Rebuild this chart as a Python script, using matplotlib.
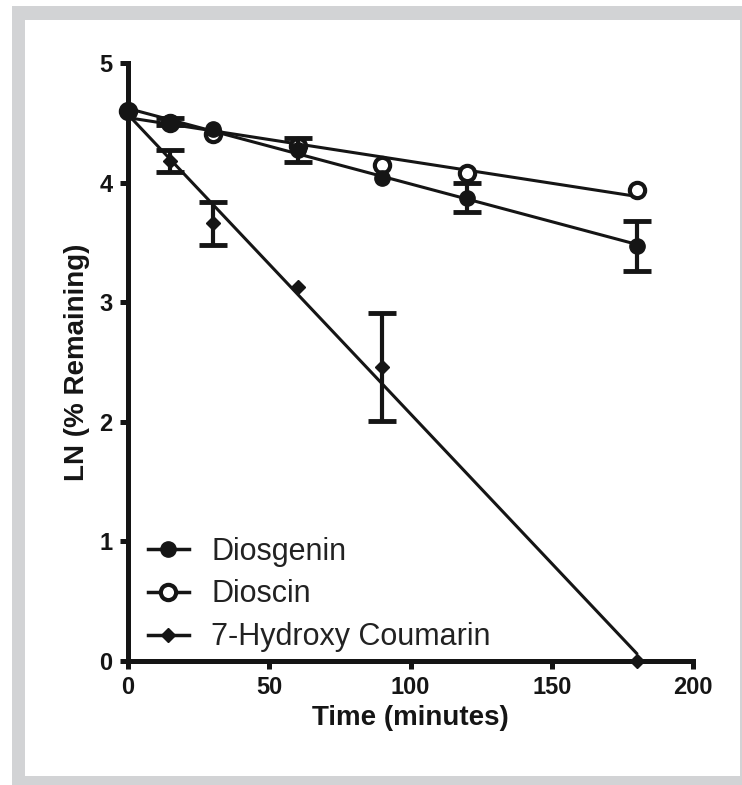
import numpy as np
import matplotlib
matplotlib.use("Agg")
import matplotlib.pyplot as plt
from matplotlib.lines import Line2D
from matplotlib.patches import Rectangle

# ---- data ----
time_min = [0, 15, 30, 60, 90, 120, 180]
diosgenin = [4.60, 4.51, 4.45, 4.27, 4.04, 3.875, 3.47]
diosgenin_err = [0.0, 0.03, 0.0, 0.10, 0.0, 0.12, 0.21]
dioscin = [4.60, 4.50, 4.41, 4.31, 4.15, 4.08, 3.94]
dioscin_err = [0.0, 0.0, 0.0, 0.0, 0.0, 0.0, 0.0]
hc_time = [0, 15, 30, 60, 90, 180]
hydroxy_coumarin = [4.60, 4.18, 3.66, 3.13, 2.46, 0.0]
hydroxy_coumarin_err = [0.0, 0.09, 0.18, 0.0, 0.45, 0.0]
series_names = ["Diosgenin", "Dioscin", "7-Hydroxy Coumarin"]
x_ticks = [0, 50, 100, 150, 200]
y_ticks = [0, 1, 2, 3, 4, 5]

W, H = 742, 785
fig = plt.figure(figsize=(W / 100, H / 100), dpi=100)
plt.rcParams['font.family'] = ['Liberation Sans', 'DejaVu Sans']

# grey frame
fig.patches.append(Rectangle((12 / W, 0), 730 / W, (H - 6) / H, transform=fig.transFigure,
                             facecolor='#d2d3d5', edgecolor='none', zorder=-2))
fig.patches.append(Rectangle((25 / W, 9 / H), 715 / W, 756 / H, transform=fig.transFigure,
                             facecolor='white', edgecolor='none', zorder=-1))

ax = fig.add_axes([128 / W, (H - 661) / H, 565 / W, 598 / H])
ax.patch.set_alpha(0)

K = '#151515'
t = np.array(time_min, dtype=float)
th = np.array(hc_time, dtype=float)

def fit_line(x, y):
    p = np.polyfit(x, y, 1)
    xs = np.array([x.min(), x.max()])
    return xs, np.polyval(p, xs)

for x, y in [(t, np.array(diosgenin)), (t, np.array(dioscin)), (th, np.array(hydroxy_coumarin))]:
    xs, ys = fit_line(x, y)
    ax.plot(xs, ys, color=K, lw=2.2, zorder=2, clip_on=False)

eb_kw = dict(ecolor=K, elinewidth=3, capsize=10, capthick=3.5, linestyle='none', clip_on=False, zorder=3)
ax.plot(t, dioscin, 'o', ms=11, mfc='white', mec=K, mew=3, clip_on=False, zorder=3)
ax.plot(t, diosgenin, 'o', ms=11, mfc=K, mec=K, clip_on=False, zorder=3)
ax.plot(th, hydroxy_coumarin, 'D', ms=7.5, mfc=K, mec=K, clip_on=False, zorder=3)
for x, y, e in [(t, diosgenin, diosgenin_err), (t, dioscin, dioscin_err),
                (th, hydroxy_coumarin, hydroxy_coumarin_err)]:
    m = np.array(e) > 0
    if m.any():
        ax.errorbar(np.asarray(x)[m], np.asarray(y)[m], yerr=np.asarray(e)[m], fmt='none', **eb_kw)

ax.set_xlim(0, 200)
ax.set_ylim(0, 5)
ax.set_xticks(x_ticks)
ax.set_yticks(y_ticks)
for s in ['top', 'right']:
    ax.spines[s].set_visible(False)
for s in ['left', 'bottom']:
    ax.spines[s].set_linewidth(3.6)
    ax.spines[s].set_color(K)
    ax.spines[s].set_capstyle('projecting')
ax.tick_params(direction='out', length=6, width=3.6, color=K, pad=5, labelsize=17)
for lab in ax.get_xticklabels() + ax.get_yticklabels():
    lab.set_fontweight('bold')
    lab.set_color(K)

ax.set_xlabel("Time (minutes)", fontsize=20, fontweight='bold', color=K, labelpad=4)
ax.set_ylabel("LN (% Remaining)", fontsize=20, fontweight='bold', color=K, labelpad=7)

handles = [
    Line2D([], [], color=K, lw=2.5, marker='o', ms=11, mfc=K, mec=K),
    Line2D([], [], color=K, lw=2.5, marker='o', ms=11, mfc='white', mec=K, mew=3),
    Line2D([], [], color=K, lw=2.5, marker='D', ms=7.5, mfc=K, mec=K),
]
leg = ax.legend(handles, series_names, loc='upper left', bbox_to_anchor=(0.035, 0.208),
                frameon=False, fontsize=22, handlelength=1.35, handletextpad=0.72,
                labelspacing=0.42, borderpad=0, borderaxespad=0)
for txt in leg.get_texts():
    txt.set_color('#222222')

fig.savefig("out.png", dpi=100)
